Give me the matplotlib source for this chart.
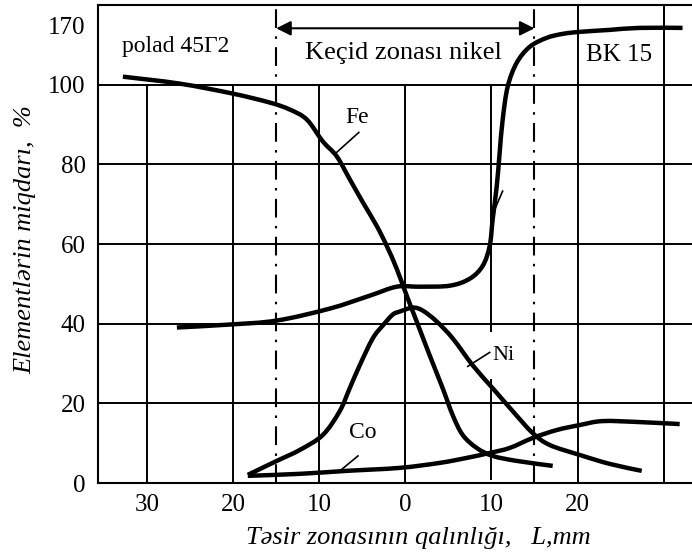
import matplotlib
matplotlib.use("Agg")
import matplotlib.pyplot as plt
from matplotlib.path import Path
from matplotlib.patches import PathPatch

plt.rcParams['font.family'] = ['Liberation Serif', 'DejaVu Serif']

# ---- data (x: mm, y: plot units; top band label "170") ----
fe_x = [-32.81, -26.2, -20.05, -15.75, -13.43, -11.45, -9.59, -7.97, -6.46, -4.95, -3.32, -2.16, -1.0,
        0.16, 1.32, 2.83, 4.34, 5.5, 6.67, 8.29, 10.15, 12.94, 17.12]
fe_y = [102.05, 100.3, 97.8, 95.55, 93.8, 91.3, 85.8, 82.05, 76.3, 70.55, 64.55, 59.55, 53.8,
        47.05, 40.55, 32.05, 23.8, 17.05, 12.05, 8.8, 6.8, 5.55, 4.3]

ni_x = [-18.3, -14.93, -12.26, -9.59, -7.62, -6.46, -5.3, -3.79, -2.62, -1.46, -0.65, 0.86, 2.02,
        3.65, 5.51, 7.83, 10.15, 12.47, 14.79, 16.77, 20.25, 23.74, 27.46]
ni_y = [2.05, 5.55, 8.3, 12.05, 18.05, 23.8, 29.55, 36.3, 39.55, 42.3, 43.05, 44.05, 43.3,
        40.55, 36.3, 29.55, 23.8, 18.05, 12.55, 9.55, 7.05, 4.8, 3.05]

co_x = [-18.3, -12.26, -6.81, -0.65, 3.99, 7.13, 9.8, 12.12, 14.79, 17.58, 20.25, 22.92, 27.22, 31.87]
co_y = [1.8, 2.3, 3.05, 3.8, 5.05, 6.3, 7.55, 8.8, 11.3, 13.3, 14.55, 15.55, 15.3, 14.8]

wc_x = [-26.54, -20.4, -14.93, -8.78, -4.13, -1.0, 1.67, 5.16, 7.48, 8.99, 9.8, 10.15, 10.62, 10.96,
        11.31, 11.89, 12.94, 14.45, 16.42, 18.28, 20.25, 23.74, 27.22, 32.2]
wc_y = [39.05, 39.8, 40.8, 43.8, 47.05, 49.3, 49.3, 49.55, 51.3, 54.55, 59.55, 66.3, 74.55, 83.05,
        91.3, 99.55, 105.55, 109.55, 111.8, 112.8, 113.3, 113.8, 114.3, 114.3]

x_ticks = [-30, -20, -10, 0, 10, 20]
x_tick_labels = ['30', '20', '10', '0', '10', '20']
y_ticks = [0, 20, 40, 60, 80, 100, 115]
y_tick_labels = ['0', '20', '40', '60', '80', '100', '170']
grid_x_low = [-30, -20, -10, 0]
grid_x_full = [20, 30]
grid_y = [20, 40, 60, 80, 100]
zone_bounds = [-15, 15]


def smooth_path(xs, ys):
    """Draw the read points as a smooth (Catmull-Rom style) Bezier path."""
    pts = list(zip(xs, ys))
    n = len(pts)
    verts = [pts[0]]
    codes = [Path.MOVETO]
    for i in range(n - 1):
        p0 = pts[max(i - 1, 0)]
        p1 = pts[i]
        p2 = pts[i + 1]
        p3 = pts[min(i + 2, n - 1)]
        c1 = (p1[0] + (p2[0] - p0[0]) / 6.0, p1[1] + (p2[1] - p0[1]) / 6.0)
        c2 = (p2[0] - (p3[0] - p1[0]) / 6.0, p2[1] - (p3[1] - p1[1]) / 6.0)
        verts += [c1, c2, p2]
        codes += [Path.CURVE4] * 3
    return Path(verts, codes)


fig = plt.figure(figsize=(6.92, 5.58), dpi=100)
ax = fig.add_axes([98/692, 1-483/558, 1-98/692, (483-5)/558])
ax.set_xlim(-35.7, 33.3)
ax.set_ylim(0.55, 120.05)

ax.spines['right'].set_visible(False)
for s in ['left', 'bottom', 'top']:
    ax.spines[s].set_linewidth(1.5)

gk = dict(color='black', lw=1.4, zorder=1)
for gx in grid_x_low:
    ax.plot([gx, gx], [0, 100], **gk)
ax.plot([10, 10], [0.9, 25.8], **gk)
ax.plot([10, 10], [38.3, 100], **gk)
for gx in grid_x_full:
    ax.plot([gx, gx], [0, 120.05], **gk)
for gy in grid_y:
    ax.axhline(gy, **gk)
for zx in zone_bounds:
    ax.plot([zx, zx], [0, 120.05], color='black', lw=1.5,
            linestyle=(0, (9, 4, 1.2, 4)), zorder=1)

for xs, ys in [(fe_x, fe_y), (ni_x, ni_y), (co_x, co_y), (wc_x, wc_y)]:
    ax.add_patch(PathPatch(smooth_path(xs, ys), facecolor='none', edgecolor='black',
                           lw=3.2, capstyle='butt', joinstyle='round', zorder=3))

# leaders
lk = dict(color='black', lw=1.2, zorder=3)
ax.plot([-7.97, -5.4], [83.05, 88.05], **lk)
ax.plot([7.25, 9.8], [29.3, 32.8], **lk)
ax.plot([-7.6, -5.5], [3.05, 6.8], **lk)
ax.plot([10.4, 11.3], [68.8, 73.3], **lk)

# zone arrow
ax.annotate('', xy=(-15, 114.2), xytext=(15, 114.2),
            arrowprops=dict(arrowstyle='<|-|>', color='black', lw=1.5,
                            mutation_scale=22, shrinkA=0, shrinkB=0))

ax.text(-26.7, 109.6, 'polad 45Γ2', fontsize=17, ha='center', va='center')
ax.text(-0.2, 108.0, 'Keçid zonası nikel', fontsize=19, ha='center', va='center')
ax.text(24.8, 107.5, 'BK 15', fontsize=18, ha='center', va='center')
ax.text(-5.6, 91.8, 'Fe', fontsize=17, ha='center', va='center')
ax.text(10.15, 32.0, 'Ni', fontsize=16, ha='left', va='center')
ax.text(-4.9, 12.8, 'Co', fontsize=17, ha='center', va='center')

ax.set_xticks(x_ticks)
ax.set_xticklabels(x_tick_labels)
ax.set_yticks(y_ticks)
ax.set_yticklabels(y_tick_labels)
ax.tick_params(axis='both', length=0, labelsize=18)
ax.tick_params(axis='y', pad=9)
ax.tick_params(axis='x', pad=8)

fig.text(25/692, 1-240/558, 'Elementlərin miqdarı,  %', rotation=90,
         fontsize=19, style='italic', ha='center', va='center')
fig.text(418/692, 1-538/558, 'Təsir zonasının qalınlığı,   L,mm',
         fontsize=19, style='italic', ha='center', va='center')

fig.savefig('out.png', dpi=100)
